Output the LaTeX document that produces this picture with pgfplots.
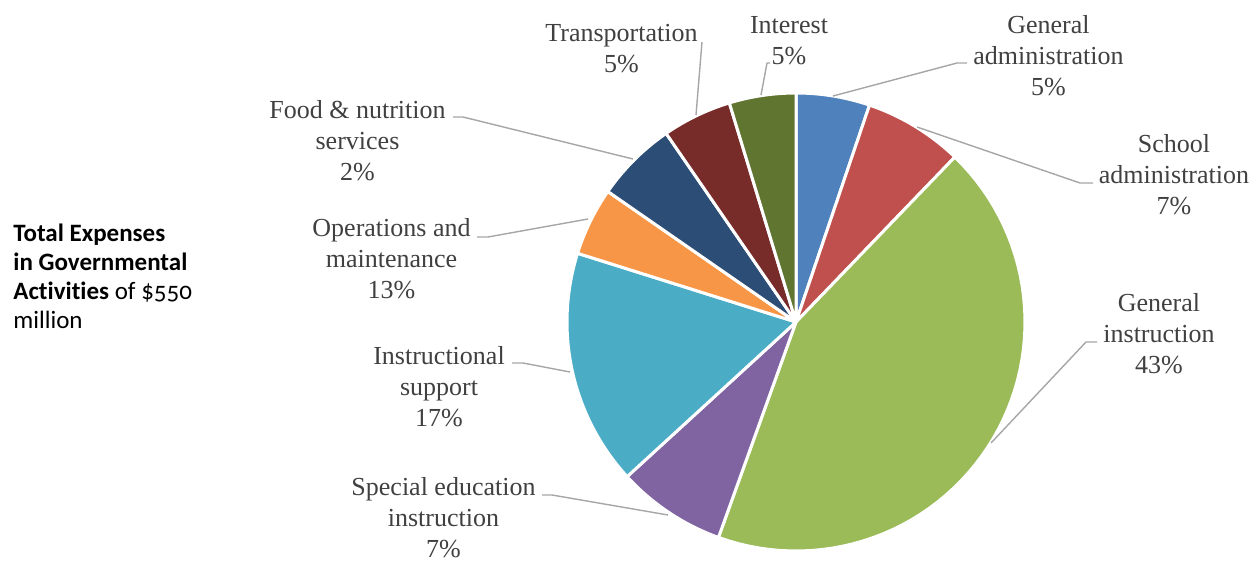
\documentclass[border=0pt]{standalone}
\usepackage{pgfplots}
\pgfplotsset{compat=1.18}
\usepackage{fontspec}
\setmainfont{Liberation Serif}
\newfontfamily\calibri[Numbers=OldStyle, Ligatures=NoCommon]{Carlito}
\definecolor{cA}{HTML}{4F81BD}
\definecolor{cB}{HTML}{C0504D}
\definecolor{cC}{HTML}{9BBB59}
\definecolor{cD}{HTML}{8064A2}
\definecolor{cE}{HTML}{4BACC6}
\definecolor{cF}{HTML}{F79646}
\definecolor{cG}{HTML}{2C4D75}
\definecolor{cH}{HTML}{772C2A}
\definecolor{cI}{HTML}{5F7530}
\definecolor{lead}{HTML}{A6A6A6}
\definecolor{lab}{HTML}{404040}
\tikzset{lbl/.style={font=\fontsize{13bp}{15.5bp}\selectfont, text=lab, align=center, inner sep=0pt}}
\pgfplotsset{slice/.style={draw=white, line width=1.5bp, samples=60, variable=\t},
  ll/.style={color=lead, line width=0.7bp, mark=none}}
% slice sizes as drawn (percent of the circle), clockwise from 12 o'clock
\def\vA{5.2}\def\vB{7.0}\def\vC{43.3}\def\vD{7.7}\def\vE{16.65}
\def\vF{4.8}\def\vG{5.75}\def\vH{4.9}\def\vI{4.7}
\begin{document}
\begin{tikzpicture}
\pgfmathsetmacro\eA{3.6*\vA}
\pgfmathsetmacro\eB{\eA+3.6*\vB}
\pgfmathsetmacro\eC{\eB+3.6*\vC}
\pgfmathsetmacro\eD{\eC+3.6*\vD}
\pgfmathsetmacro\eE{\eD+3.6*\vE}
\pgfmathsetmacro\eF{\eE+3.6*\vF}
\pgfmathsetmacro\eG{\eF+3.6*\vG}
\pgfmathsetmacro\eH{\eG+3.6*\vH}
\pgfmathsetmacro\eI{\eH+3.6*\vI}
\begin{axis}[width=628.5bp, height=286bp, scale only axis,
  xmin=0, xmax=1257, ymin=0, ymax=572, y dir=reverse,
  hide axis, clip=false,
  every axis plot/.append style={line join=round}]
\addplot[slice, fill=cA, domain=0:\eA]   ({796+229*sin(\t)},{322-229*cos(\t)}) -- (796,322) -- cycle;
\addplot[slice, fill=cB, domain=\eA:\eB] ({796+229*sin(\t)},{322-229*cos(\t)}) -- (796,322) -- cycle;
\addplot[slice, fill=cC, domain=\eB:\eC] ({796+229*sin(\t)},{322-229*cos(\t)}) -- (796,322) -- cycle;
\addplot[slice, fill=cD, domain=\eC:\eD] ({796+229*sin(\t)},{322-229*cos(\t)}) -- (796,322) -- cycle;
\addplot[slice, fill=cE, domain=\eD:\eE] ({796+229*sin(\t)},{322-229*cos(\t)}) -- (796,322) -- cycle;
\addplot[slice, fill=cF, domain=\eE:\eF] ({796+229*sin(\t)},{322-229*cos(\t)}) -- (796,322) -- cycle;
\addplot[slice, fill=cG, domain=\eF:\eG] ({796+229*sin(\t)},{322-229*cos(\t)}) -- (796,322) -- cycle;
\addplot[slice, fill=cH, domain=\eG:\eH] ({796+229*sin(\t)},{322-229*cos(\t)}) -- (796,322) -- cycle;
\addplot[slice, fill=cI, domain=\eH:\eI] ({796+229*sin(\t)},{322-229*cos(\t)}) -- (796,322) -- cycle;
% leader lines
\addplot[ll] coordinates {(702,42) (696,115)};
\addplot[ll] coordinates {(770,63) (767,63) (761,95)};
\addplot[ll] coordinates {(967,63) (957,63) (833,96)};
\addplot[ll] coordinates {(1093,183) (1080,183) (917,127)};
\addplot[ll] coordinates {(1097,342) (1086,342) (991,443)};
\addplot[ll] coordinates {(453,117) (463,117) (633,159)};
\addplot[ll] coordinates {(477,237) (488,237) (588,219)};
\addplot[ll] coordinates {(512,363) (523,363) (570,372)};
\addplot[ll] coordinates {(542,495) (552,495) (668,515)};
% labels
\node[lbl] at (621.5,48.5) {Transportation\\5\%};
\node[lbl] at (789,40.5) {Interest\\5\%};
\node[lbl] at (1048.5,55.5) {General\\administration\\5\%};
\node[lbl] at (1174,175) {School\\administration\\7\%};
\node[lbl] at (1159,334) {General\\instruction\\43\%};
\node[lbl] at (357.5,140.5) {Food \& nutrition\\services\\2\%};
\node[lbl] at (391.5,258.5) {Operations and\\maintenance\\13\%};
\node[lbl] at (439,386.5) {Instructional\\support\\17\%};
\node[lbl] at (443.5,517.5) {Special education\\instruction\\7\%};
\node[anchor=north west, inner sep=0pt, align=left,
  font=\calibri\fontsize{12.5bp}{14.5bp}\selectfont] at (13,224)
  {\textbf{Total Expenses}\\\textbf{in Governmental}\\\textbf{Activities} of \$550\\million};
\end{axis}
\pgfresetboundingbox
\useasboundingbox (current axis.south west) rectangle (current axis.north east);
\end{tikzpicture}
\end{document}
